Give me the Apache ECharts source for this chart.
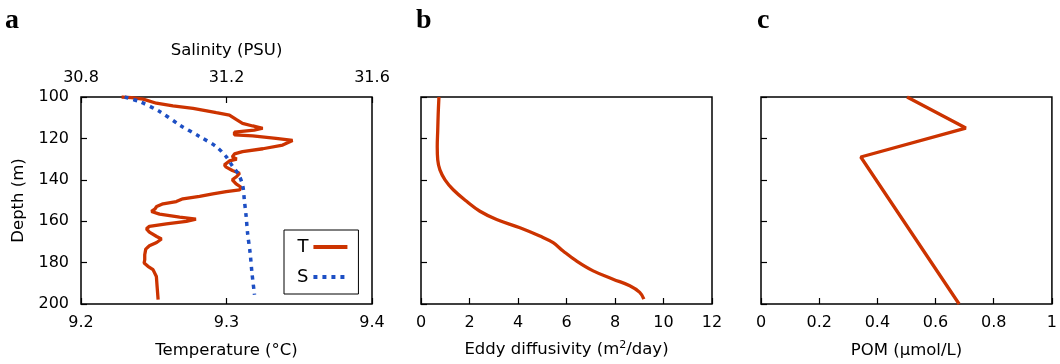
<!DOCTYPE html>
<html>
<head>
<meta charset="utf-8">
<script src="https://cdn.jsdelivr.net/npm/echarts@6/dist/echarts.min.js"></script>
<style>html,body{margin:0;padding:0;background:#fff}#c{width:1060px;height:364px}</style>
</head>
<body>
<div id="c"></div>
<script>
// Panel a: temperature profile
const tDepth = [100,100.3,101,103,104.3,105.5,107.6,108.7,110.8,112.7,114,115.1,116,117,118.3,118.8,120,121,123.2,125,126.4,127.5,129,130,130.9,132.8,133.9,135.5,136.8,138.4,140,142,143.6,144.9,145.7,146.8,148,149.2,150.5,151.6,152.9,154.2,155.3,156.6,158,159,160.1,161.3,162.5,163.7,165.3,167.4,168.6,170.3,171.9,173.5,176.2,178.6,180.2,181.8,183.4,186.7,191.5,197.9];
const tValue = [9.2279,9.2347,9.2427,9.2518,9.2632,9.277,9.293,9.302,9.3066,9.311,9.318,9.3249,9.319,9.3055,9.3055,9.318,9.334,9.3454,9.3386,9.325,9.311,9.3055,9.304,9.307,9.302,9.2986,9.2998,9.304,9.309,9.307,9.304,9.3066,9.31,9.309,9.2998,9.2906,9.2815,9.270,9.2655,9.2564,9.252,9.2507,9.2484,9.254,9.2678,9.279,9.2724,9.2587,9.247,9.245,9.247,9.252,9.2553,9.252,9.247,9.2445,9.2438,9.2438,9.2434,9.246,9.2495,9.2518,9.2523,9.253];
// Panel a: salinity profile
const sDepth = [100,102.3,107,113.5,119.1,124,128.8,133.6,137.6,143.2,149.7,157.7,165.8,175.4,185,195.5];
const sValue = [30.92,30.962,31.016,31.071,31.126,31.172,31.199,31.217,31.234,31.245,31.249,31.254,31.258,31.265,31.27,31.277];
// Panel b: eddy diffusivity
const kDepth = [100,108,116,124,130.4,135.2,140,144.8,150.4,155.2,159.2,163.2,167.2,170.4,174.4,179.2,184,188,191.2,194.4,197.6];
const kValue = [0.74,0.71,0.69,0.67,0.69,0.78,0.99,1.33,1.88,2.43,3.12,4.08,4.9,5.45,5.86,6.41,7.1,7.92,8.61,9.02,9.19];
// Panel c: POM
const pDepth = [100,115,129,200];
const pValue = [0.502,0.704,0.343,0.681];
// Tick labels / axis ranges
const depthTicks = [100,120,140,160,180,200];
const panelLabels = ['a','b','c'];

const pairs = (v, d) => v.map((x, i) => [x, d[i]]);
const RED = '#cc3300', BLUE = '#1d4fc4';
const FONT = 'DejaVu Sans';
const lbl = {color:'#000', fontFamily:FONT, fontSize:16};
const nameStyle = {color:'#000', fontFamily:FONT, fontSize:16.5};

const grids = [
  {left:81, width:291, top:97, height:207},
  {left:421, width:291, top:97, height:207},
  {left:761, width:291, top:97, height:207}
].map(g => Object.assign(g, {show:true, borderColor:'#000', borderWidth:1.5, backgroundColor:'transparent'}));

function yAx(gi, showLabels) {
  return {
    type:'value', gridIndex:gi, inverse:true, min:100, max:200, interval:20,
    axisLine:{show:false},
    axisTick:{show:true, inside:true, length:6, lineStyle:{color:'#000', width:1.2}},
    axisLabel:{show:showLabels, margin:12, ...lbl},
    splitLine:{show:false},
    name: showLabels ? 'Depth (m)' : '', nameLocation:'middle', nameGap:54, nameRotate:90,
    nameTextStyle:nameStyle
  };
}
function xAx(gi, pos, min, max, interval, name, extra) {
  return Object.assign({
    type:'value', gridIndex:gi, position:pos, min, max, interval,
    axisLine:{show:false},
    axisTick:{show:true, inside:true, length:6, lineStyle:{color:'#000', width:1.2}},
    axisLabel:{margin:11, ...lbl, showMinLabel:true, showMaxLabel:true},
    splitLine:{show:false},
    name, nameLocation:'middle', nameGap:38, nameTextStyle:nameStyle
  }, extra || {});
}

const option = {
  animation:false,
  backgroundColor:'#fff',
  title: panelLabels.map((t, i) => ({
    text:t, left:[0, 411, 752][i], top:2,
    textStyle:{fontFamily:'Liberation Serif', fontWeight:'bold', fontSize:28, color:'#000'}
  })),
  grid: grids,
  xAxis: [
    xAx(0, 'bottom', 9.2, 9.4, 0.1, 'Temperature (°C)'),
    xAx(0, 'top', 30.8, 31.6, 0.4, 'Salinity (PSU)', {nameGap:38}),
    xAx(1, 'bottom', 0, 12, 2, 'Eddy diffusivity (m{sup|2}/day)', {
      nameGap:36,
      nameTextStyle:{...nameStyle, rich:{sup:{fontFamily:FONT, fontSize:11, verticalAlign:'top', padding:[0,0,8,0], color:'#000'}}}
    }),
    xAx(2, 'bottom', 0, 1, 0.2, 'POM (µmol/L)')
  ],
  yAxis: [yAx(0, true), yAx(1, false), yAx(2, false)],
  legend: {
    data:['T','S'], orient:'vertical', left:284, top:230, align:'right',
    itemWidth:34, itemHeight:14, itemGap:12,
    itemStyle:{opacity:0, borderWidth:0},
    lineStyle:{width:4},
    borderColor:'#000', borderWidth:1, padding:[8,9,8,13],
    textStyle:{fontFamily:FONT, fontSize:18, color:'#000'},
    backgroundColor:'#fff'
  },
  series: [
    {name:'T', type:'line', xAxisIndex:0, yAxisIndex:0, data:pairs(tValue, tDepth),
     symbol:'none', lineStyle:{color:RED, width:3.3}, itemStyle:{color:RED}},
    {name:'S', type:'line', xAxisIndex:1, yAxisIndex:0, data:pairs(sValue, sDepth),
     symbol:'none', smooth:0.3, lineStyle:{color:BLUE, width:3.5, type:[4,5]}, itemStyle:{color:BLUE}},
    {name:'K', type:'line', xAxisIndex:2, yAxisIndex:1, data:pairs(kValue, kDepth),
     symbol:'none', smooth:0.4, lineStyle:{color:RED, width:3.3}, itemStyle:{color:RED}},
    {name:'POM', type:'line', xAxisIndex:3, yAxisIndex:2, data:pairs(pValue, pDepth),
     symbol:'none', lineStyle:{color:RED, width:3.3}, itemStyle:{color:RED}}
  ]
};
const chart = echarts.init(document.getElementById('c'), null, {renderer:'canvas'});
chart.setOption(option);
</script>
</body>
</html>
